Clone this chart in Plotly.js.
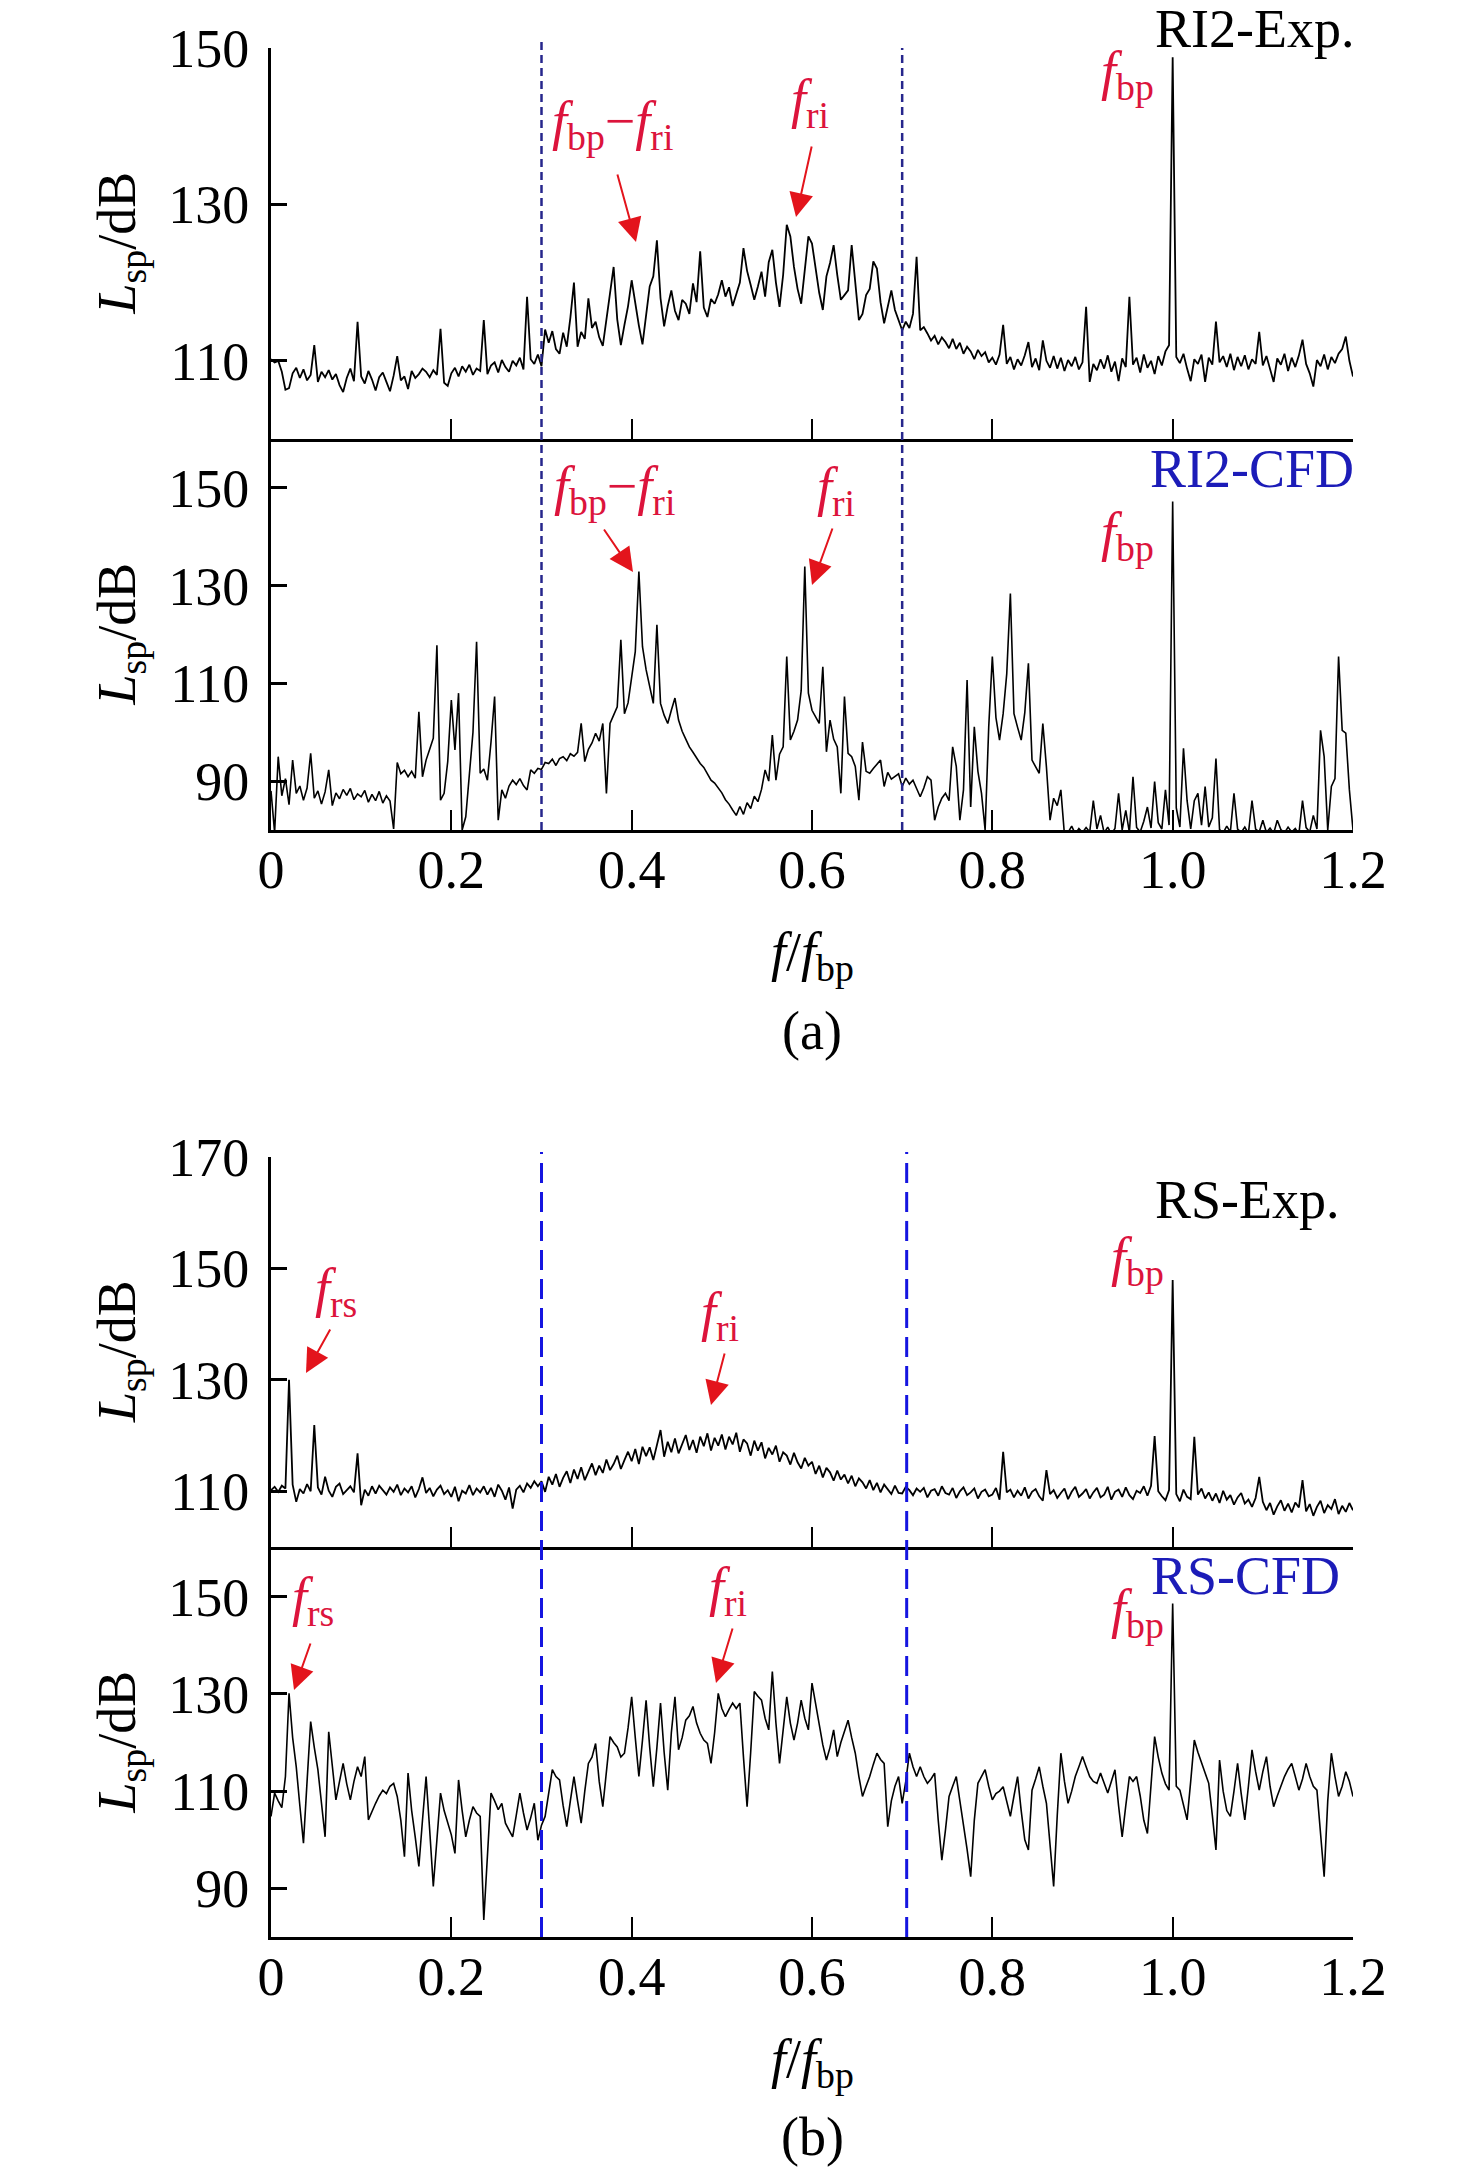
<!DOCTYPE html>
<html><head><meta charset="utf-8">
<script src="https://cdn.plot.ly/plotly-3.0.1.min.js"></script>
<style>html,body{margin:0;padding:0;background:#fff;}#chart{width:1476px;height:2172px;}</style>
</head><body><div id="chart"></div>
<script>
// frequency grid step (f/f_bp), 301 bins from 0 to 1.2
const FREQ_STEP = 0.004;

// RI2-Exp. spectrum (dB)
const ri2Exp = [
110.2,109.8,110.0,108.6,106.3,106.5,108.4,109.1,107.8,108.9,107.5,108.2,112.0,107.3,108.6,107.9,108.8,107.6,108.3,106.9,106.0,107.8,109.0,107.4,115.0,
108.0,107.1,108.7,107.6,106.2,107.9,108.5,107.3,106.1,108.1,110.6,107.5,108.0,106.4,108.7,107.8,108.3,109.0,108.6,107.9,108.8,108.2,114.1,107.2,106.8,
108.4,109.1,108.0,109.3,108.6,109.5,108.2,109.0,108.7,115.2,108.3,109.4,109.8,108.5,110.1,109.2,108.6,110.0,109.4,110.4,108.9,118.2,110.2,109.6,110.8,
109.3,114.0,112.3,113.8,111.5,110.9,113.6,111.8,115.5,120.0,111.8,113.7,112.8,118.0,114.2,115.0,113.0,111.9,115.4,118.6,122.0,115.3,112.0,114.6,117.0,
120.3,117.2,114.5,112.1,116.0,119.5,120.8,125.4,118.0,114.4,117.0,119.0,116.4,115.2,117.8,117.3,116.0,119.9,117.5,124.0,116.8,115.6,117.9,117.3,118.5,
120.3,118.2,119.4,117.0,118.5,120.0,124.4,121.5,119.7,117.8,119.5,121.4,118.2,122.6,124.2,120.0,116.9,121.0,127.4,125.9,122.0,119.2,117.3,121.8,125.9,
125.0,121.6,118.7,116.5,120.8,122.5,124.8,121.0,117.8,118.4,119.0,124.8,120.3,115.2,116.0,118.4,119.2,122.7,121.8,117.5,114.8,117.0,119.0,116.5,115.2,
113.9,115.0,114.2,116.0,123.3,113.9,114.3,113.5,112.6,113.2,112.1,113.0,112.4,111.6,112.8,111.5,112.3,110.9,111.8,111.2,110.2,111.4,110.6,111.1,109.8,
110.4,109.5,110.8,114.6,109.6,110.5,108.9,110.2,109.4,110.7,112.4,109.2,110.3,108.8,112.6,110.0,109.1,110.6,109.0,110.4,108.7,110.1,109.3,110.5,108.9,
109.8,116.9,107.3,109.6,108.8,110.2,109.0,110.7,108.6,109.9,107.4,110.3,109.2,118.2,109.5,110.4,108.5,110.8,109.1,110.0,108.3,110.6,109.4,111.2,112.0,
148.8,110.5,109.7,110.9,109.0,107.4,110.2,109.6,110.8,107.3,110.4,109.5,115.0,109.8,110.6,109.2,110.9,108.8,110.5,109.3,110.7,108.9,110.2,109.6,113.7,
109.4,110.6,109.1,107.3,110.3,109.5,110.9,108.7,110.4,109.2,110.7,112.7,109.6,108.4,106.7,110.1,109.3,110.8,108.9,110.5,109.7,110.9,111.5,113.1,110.0,
108.0];

// RI2-CFD spectrum (dB)
const ri2Cfd = [
88.0,79.5,95.0,87.0,90.5,85.2,94.3,87.5,89.0,86.1,88.6,95.7,86.5,88.0,85.3,87.8,92.3,85.0,87.6,86.4,88.3,87.1,88.5,86.2,87.4,
86.8,88.1,85.7,87.3,86.0,87.9,85.5,87.0,85.9,80.2,93.8,91.5,92.2,90.9,92.0,90.6,104.2,90.9,94.3,96.5,98.8,117.8,86.1,87.5,94.0,
106.6,96.4,108.0,80.0,82.7,90.9,100.0,118.5,91.6,92.5,90.2,98.0,107.3,82.0,88.2,86.5,89.0,90.2,89.3,90.5,89.1,88.2,92.3,91.6,92.6,
92.4,93.8,93.6,94.5,93.2,94.6,95.0,94.2,95.6,95.1,95.9,101.8,94.0,96.5,97.8,99.8,98.2,101.8,87.5,101.8,103.5,105.2,118.9,103.8,106.0,
111.4,116.5,132.9,117.5,112.8,109.6,105.9,122.0,105.9,103.5,101.8,104.5,107.0,102.5,100.2,98.6,97.0,95.9,94.6,93.6,92.8,91.4,90.2,89.6,88.5,
87.6,86.2,85.3,84.1,83.0,84.8,83.2,85.6,84.4,86.9,85.8,88.3,92.3,90.0,99.4,90.2,95.5,97.0,115.5,98.4,100.2,102.5,108.5,133.9,108.0,
104.5,103.0,101.8,113.4,96.0,102.5,98.6,97.0,87.5,107.3,95.7,95.0,93.0,86.1,98.0,92.0,91.6,92.6,93.4,94.3,88.9,91.8,90.4,90.9,91.5,
88.9,90.6,89.4,90.2,88.5,86.8,88.6,90.9,90.2,82.0,84.7,86.5,87.5,86.0,97.0,93.0,82.0,88.2,110.7,84.7,101.1,92.0,87.5,80.0,101.1,
115.5,103.0,98.4,103.8,112.0,128.4,103.8,101.0,98.4,104.0,114.1,94.3,93.0,91.6,101.8,92.9,82.0,86.5,85.0,88.2,79.0,79.5,80.8,79.2,80.3,
79.5,80.5,79.6,86.0,80.2,83.0,79.4,80.6,79.2,80.3,87.5,80.0,84.0,79.5,90.9,80.5,79.6,81.8,84.7,80.4,89.9,81.5,80.2,88.2,81.0,
147.2,84.5,80.6,96.7,86.0,80.2,86.0,87.5,81.0,88.9,80.6,82.5,94.6,80.1,79.4,80.8,79.6,87.5,80.2,79.5,80.6,79.3,86.0,80.2,79.6,
82.0,79.5,80.4,79.3,82.0,80.1,79.4,80.6,79.6,80.3,79.2,86.0,80.5,79.6,83.0,80.2,100.4,95.0,80.0,88.9,90.5,115.5,100.4,99.8,88.2,
80.0];

// RS-Exp. spectrum (dB)
const rsExp = [
110.2,110.8,109.9,111.0,110.5,130.0,111.2,108.1,110.4,109.6,111.3,110.0,121.9,110.7,109.4,112.6,110.1,109.0,110.8,111.4,109.5,110.2,110.9,109.8,116.8,
107.5,110.3,109.2,110.9,109.6,111.0,110.2,109.4,110.7,109.9,111.2,109.3,110.5,109.8,110.9,108.9,110.4,112.5,109.7,110.6,109.1,110.3,111.0,109.5,110.2,
109.0,110.8,108.2,110.1,109.6,111.1,109.3,110.5,109.8,110.9,109.4,110.6,109.0,111.2,110.1,108.5,110.7,106.9,110.3,111.0,109.8,111.4,110.6,111.8,110.9,
111.8,109.9,112.6,111.2,113.1,110.8,112.4,113.6,111.5,113.9,112.2,114.3,112.0,113.5,115.0,112.9,114.6,113.3,115.7,113.8,114.9,116.4,114.0,115.6,117.1,
115.4,117.6,114.9,118.0,116.3,117.9,115.6,118.4,121.0,116.2,118.9,117.0,119.5,116.8,118.3,120.1,117.4,119.2,116.9,119.8,118.1,120.4,117.3,119.6,118.2,
120.2,117.5,119.8,118.4,120.5,117.1,119.3,118.6,116.4,119.1,117.3,118.8,115.9,117.8,116.6,118.2,115.3,117.0,116.4,114.8,116.9,115.2,114.1,116.0,114.6,
115.3,113.1,114.6,112.5,114.2,113.4,111.9,113.7,112.1,113.0,111.4,112.8,110.9,112.3,111.6,110.5,112.0,110.2,111.5,109.8,111.2,110.4,109.5,111.0,109.7,
109.6,110.8,110.2,109.3,110.5,109.9,110.6,108.9,110.1,110.4,109.2,110.9,109.7,109.4,110.6,108.8,110.0,110.7,109.3,109.8,110.5,108.7,109.9,110.3,109.1,
109.4,110.6,108.5,117.1,109.8,110.3,108.9,110.1,109.2,110.7,108.7,109.9,110.4,109.1,108.3,113.8,109.5,110.2,108.8,109.7,110.5,108.6,109.9,110.8,109.0,
109.6,110.4,108.7,109.8,110.6,108.9,109.4,110.8,108.5,109.9,110.3,109.0,110.7,109.3,108.6,110.1,109.7,110.9,109.2,111.0,119.9,110.0,109.1,108.4,110.2,
147.9,109.5,108.2,110.3,109.0,108.6,119.8,109.4,110.5,108.7,109.8,108.3,109.6,107.9,110.1,108.5,109.3,107.6,108.9,109.7,107.8,108.5,107.2,108.8,112.6,
108.1,106.6,107.9,105.8,107.3,108.4,106.5,107.8,106.2,108.0,107.1,112.0,106.4,107.7,105.6,107.2,108.3,106.1,107.5,106.8,108.6,105.9,107.4,106.3,107.9,
106.6];

// RS-CFD spectrum (dB)
const rsCfd = [
104.8,109.6,108.0,106.6,113.0,130.1,121.0,115.0,107.0,99.3,112.0,124.3,119.0,114.4,107.5,100.6,122.2,115.0,108.2,112.0,115.7,111.5,108.2,112.0,115.0,
113.0,117.1,104.1,106.0,107.5,109.0,110.2,109.5,111.0,111.6,108.9,104.0,96.5,113.7,106.0,100.5,94.5,104.0,113.0,102.0,90.4,100.0,109.6,106.0,103.4,
101.0,97.2,112.3,106.0,100.6,104.0,106.8,105.5,104.8,83.5,97.0,109.6,108.0,106.2,107.5,103.4,102.0,100.6,105.0,109.6,105.5,102.0,104.5,107.5,99.9,
103.0,104.8,110.0,114.4,113.0,112.3,107.0,102.7,108.0,113.0,108.0,103.4,110.0,115.7,117.0,119.8,112.0,106.8,114.0,121.2,120.0,119.1,117.0,117.8,123.0,
129.4,121.0,113.0,120.5,128.7,119.0,110.9,119.0,128.1,118.0,110.2,122.0,129.4,118.5,121.0,124.6,125.5,127.4,124.0,121.9,120.5,119.8,115.7,122.0,130.1,
127.0,125.3,126.8,128.1,127.0,128.1,117.0,106.8,118.0,130.5,129.5,128.7,125.0,122.6,134.6,124.0,115.7,122.0,129.4,124.0,120.5,124.0,128.7,125.0,122.6,
132.2,128.0,124.0,119.5,116.4,119.0,122.6,117.1,120.0,122.5,124.6,121.0,117.8,113.0,108.9,111.0,113.0,115.5,117.8,116.5,115.7,102.7,108.0,111.0,113.0,
107.5,112.0,117.8,115.0,113.0,115.0,113.0,111.6,112.5,113.7,104.0,95.8,102.0,108.9,111.0,113.0,108.0,103.4,98.0,92.4,104.0,111.6,113.0,114.4,111.0,
108.2,109.5,110.0,110.9,108.0,104.8,109.0,113.0,106.0,100.0,97.9,110.2,112.5,115.0,111.0,107.5,99.0,90.4,105.0,117.8,112.0,107.5,110.0,113.0,115.0,
117.1,115.0,113.0,112.0,111.6,113.7,111.5,109.6,112.0,114.4,107.0,100.6,107.0,113.0,112.0,113.0,109.0,104.0,101.3,111.0,121.2,117.0,113.7,111.5,110.2,
148.6,111.0,110.2,107.0,104.1,112.0,120.5,118.0,115.7,113.5,111.6,105.0,97.9,116.4,110.0,106.0,104.8,110.0,115.7,109.5,104.1,111.0,118.5,114.0,110.2,
114.0,117.1,111.0,106.8,109.0,111.0,113.0,114.5,115.7,113.0,110.2,112.5,115.7,113.0,111.0,110.2,101.0,92.4,108.0,117.8,113.0,108.9,111.0,114.0,112.0,
108.9];

const xTickVals = [0, 0.2, 0.4, 0.6, 0.8, 1.0, 1.2];
const xTickText = ['0', '0.2', '0.4', '0.6', '0.8', '1.0', '1.2'];
const yTicksRI2Exp = [110, 130, 150];
const yTicksRI2Cfd = [90, 110, 130, 150];
const yTicksRSExp = [110, 130, 150, 170];
const yTicksRSCfd = [90, 110, 130, 150];
const bandEdgesA = [0.3, 0.7];
const bandEdgesB = [0.3, 0.705];

const freq = ri2Exp.map((_, i) => +(i * FREQ_STEP).toFixed(3));

const W = 1476, H = 2172;
const px = v => v / W;
const py = v => 1 - v / H;
const FONT = '"Liberation Serif", "Times New Roman", serif';
const RED = '#dc143c';
const ARROW = '#e3141c';
const BLUE = '#1c1cb8';

function trace(y, xa, ya, w) {
  return {x: freq, y: y, xaxis: xa, yaxis: ya, mode: 'lines', line: {color: '#000', width: w}, hoverinfo: 'skip', showlegend: false};
}
const data = [
  trace(ri2Exp, 'x', 'y', 1.8),
  trace(ri2Cfd, 'x2', 'y2', 1.6),
  trace(rsExp, 'x3', 'y3', 1.8),
  trace(rsCfd, 'x4', 'y4', 1.6)
];

function xAx(anchor, labels) {
  return {domain: [px(271), px(1353)], anchor: anchor, range: [0, 1.2], showline: true, linecolor: '#000', linewidth: 3,
    ticks: 'inside', ticklen: 20, tickwidth: 2, tickcolor: '#000', tickmode: 'array', tickvals: xTickVals, ticktext: xTickText,
    showticklabels: labels, tickfont: {family: FONT, size: 54, color: '#000'}, ticklabelstandoff: -10,
    showgrid: false, zeroline: false, fixedrange: true};
}
function yAx(anchor, top, bottom, range, vals) {
  return {domain: [py(bottom), py(top)], anchor: anchor, range: range, showline: true, linecolor: '#000', linewidth: 3,
    ticks: 'inside', ticklen: 16, tickwidth: 3, tickcolor: '#000', tickmode: 'array', tickvals: vals,
    tickfont: {family: FONT, size: 54, color: '#000'}, ticklabelstandoff: 8,
    showgrid: false, zeroline: false, fixedrange: true};
}

const ann = [];
function txt(x, y, text, color, opts) {
  ann.push(Object.assign({xref: 'paper', yref: 'paper', x: px(x), y: py(y), text: text, showarrow: false,
    font: {family: FONT, size: 54, color: color}, xanchor: 'center', yanchor: 'middle'}, opts || {}));
}
function arrow(hx, hy, tx, ty) {
  ann.push({xref: 'paper', yref: 'paper', x: px(hx), y: py(hy), ax: tx - hx, ay: ty - hy, text: '', showarrow: true,
    arrowhead: 2, arrowsize: 2.4, arrowwidth: 2, arrowcolor: ARROW, standoff: 0});
}
const XT = '<i>f</i>/<i>f</i><sub>bp</sub>';
const YT = '<i>L</i><sub>sp</sub>/dB';
const FBP = '<i>f</i><sub>bp</sub>';
const FRI = '<i>f</i><sub>ri</sub>';
const FRS = '<i>f</i><sub>rs</sub>';
const FBPRI = '<i>f</i><sub>bp</sub>\u2212<i>f</i><sub>ri</sub>';

// axis titles
txt(812, 955, XT, '#000');
txt(812, 2062, XT, '#000');
txt(812, 1031, '(a)', '#000');
txt(812, 2137, '(b)', '#000');
[243.5, 634.5, 1352, 1742.5].forEach(c => txt(120, c, YT, '#000', {textangle: -90}));

// panel labels
txt(1356, 29, 'RI2-Exp.', '#000', {xanchor: 'right'});
txt(1356, 469, 'RI2-CFD', BLUE, {xanchor: 'right'});
txt(1342, 1200, 'RS-Exp.', '#000', {xanchor: 'right'});
txt(1342, 1576, 'RS-CFD', BLUE, {xanchor: 'right'});

// red markers
txt(612, 125, FBPRI, RED); txt(810, 102, FRI, RED); txt(1127, 75, FBP, RED);
txt(614, 489, FBPRI, RED); txt(836, 490, FRI, RED); txt(1127, 535, FBP, RED);
txt(336, 1291, FRS, RED); txt(720, 1315, FRI, RED); txt(1137, 1260, FBP, RED);
txt(313, 1600, FRS, RED); txt(728, 1590, FRI, RED); txt(1137, 1612, FBP, RED);

arrow(636, 242, 617, 173); arrow(796, 217, 812, 145);
arrow(633, 572, 603, 528); arrow(812, 585, 833, 527);
arrow(306, 1373, 331, 1328); arrow(711, 1405, 725, 1352);
arrow(294, 1690, 311, 1642); arrow(716, 1683, 733, 1627);

const shapes = [];
bandEdgesA.forEach((v, k) => shapes.push({type: 'line', xref: 'x2', yref: 'paper', x0: v, x1: v, y0: py(830), y1: py(k === 0 ? 42 : 48),
  line: {color: '#26268c', width: 2.5, dash: '8px,5px'}}));
bandEdgesB.forEach(v => shapes.push({type: 'line', xref: 'x4', yref: 'paper', x0: v, x1: v, y0: py(1937), y1: py(1152),
  line: {color: '#1515e0', width: 3, dash: '20px,9px'}}));

const layout = {
  width: W, height: H, margin: {l: 0, r: 0, t: 0, b: 0},
  paper_bgcolor: '#fff', plot_bgcolor: 'rgba(0,0,0,0)', showlegend: false,
  font: {family: FONT, size: 54, color: '#000'},
  xaxis: xAx('y', false),
  xaxis2: xAx('y2', true),
  xaxis3: xAx('y3', false),
  xaxis4: xAx('y4', true),
  yaxis: yAx('x', 48, 439, [100, 150], yTicksRI2Exp),
  yaxis2: yAx('x2', 439, 830, [80, 160], yTicksRI2Cfd),
  yaxis3: yAx('x3', 1157, 1547, [100, 170], yTicksRSExp),
  yaxis4: yAx('x4', 1548, 1937, [80, 160], yTicksRSCfd),
  annotations: ann,
  shapes: shapes
};
Plotly.newPlot('chart', data, layout, {staticPlot: true, displayModeBar: false});
</script></body></html>
